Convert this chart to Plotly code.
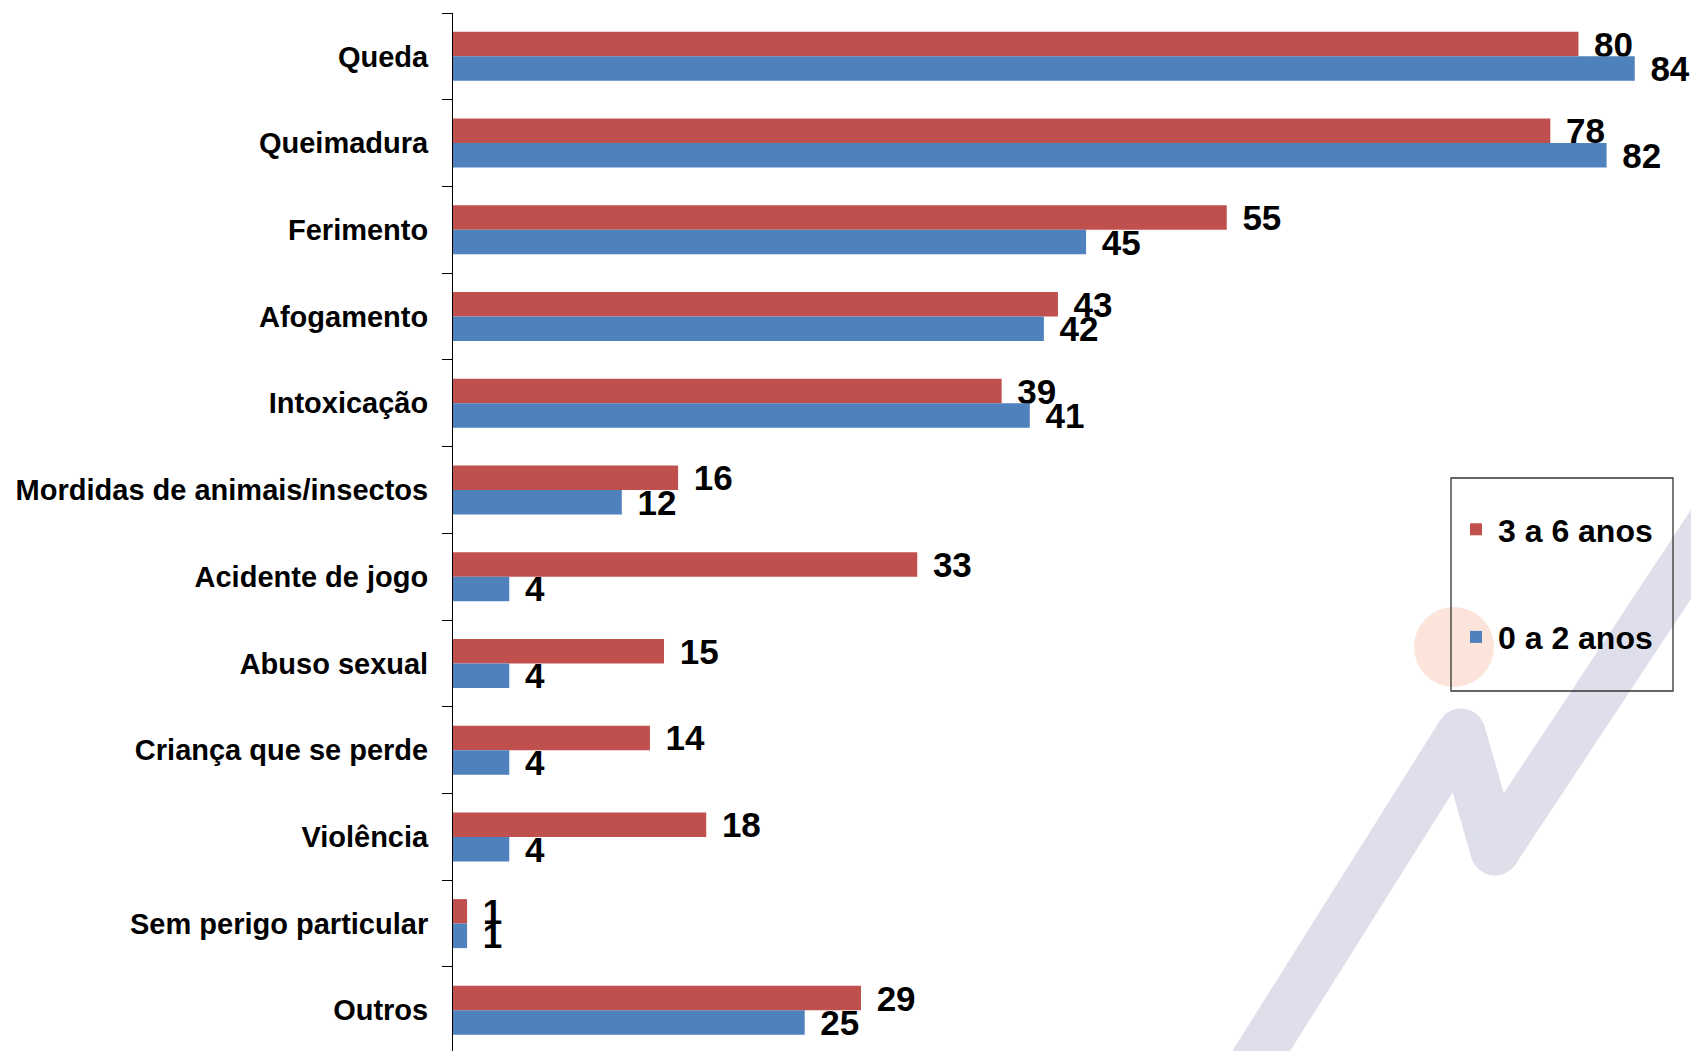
import plotly.graph_objects as go

categories = ["Queda", "Queimadura", "Ferimento", "Afogamento", "Intoxicação",
              "Mordidas de animais/insectos", "Acidente de jogo", "Abuso sexual",
              "Criança que se perde", "Violência", "Sem perigo particular", "Outros"]
series_names = ["3 a 6 anos", "0 a 2 anos"]
values_3a6 = [80, 78, 55, 43, 39, 16, 33, 15, 14, 18, 1, 29]
values_0a2 = [84, 82, 45, 42, 41, 12, 4, 4, 4, 4, 1, 25]

RED = "#C0504D"
BLUE = "#4F81BD"
FONT = "Liberation Sans, Arial, sans-serif"

W, H = 1691, 1051
L, T = 453, 13
PW, PH = W - L, H - T


def px_x(x):
    return (x - L) / PW


def px_y(y):
    return 1 - (y - T) / PH


fig = go.Figure()
for name, vals, col, grp in [(series_names[0], values_3a6, RED, "a"),
                             (series_names[1], values_0a2, BLUE, "b")]:
    fig.add_trace(go.Bar(
        y=categories, x=vals, name=name, orientation="h",
        marker=dict(color=col, line=dict(width=0)),
        texttemplate="\u00a0\u200a%{x}", textposition="outside",
        textfont=dict(family=FONT, size=35, color="black", weight="bold"),
        constraintext="none", cliponaxis=False, legendgroup=grp,
    ))

shapes = []
# watermark zigzag (decorative)
STROKE = "#DEDFEB"
pts = [(1243, 1080), (1461, 733), (1495, 851), (1740, 480)]
for (x0, y0), (x1, y1) in zip(pts[:-1], pts[1:]):
    shapes.append(dict(type="line", xref="paper", yref="paper",
                       x0=px_x(x0), y0=px_y(y0), x1=px_x(x1), y1=px_y(y1),
                       line=dict(color=STROKE, width=49), layer="below"))
for (cx, cy) in pts[1:3]:
    shapes.append(dict(type="circle", xref="paper", yref="paper",
                       xsizemode="pixel", ysizemode="pixel",
                       xanchor=px_x(cx), yanchor=px_y(cy),
                       x0=-24.5, x1=24.5, y0=-24.5, y1=24.5,
                       fillcolor=STROKE, line=dict(width=0), layer="below"))
# peach dot
shapes.append(dict(type="circle", xref="paper", yref="paper",
                   xsizemode="pixel", ysizemode="pixel",
                   xanchor=px_x(1454), yanchor=px_y(647),
                   x0=-40, x1=40, y0=-40, y1=40,
                   fillcolor="#FCE4DB", line=dict(width=0), layer="below"))
# legend frame
shapes.append(dict(type="rect", xref="paper", yref="paper",
                   x0=px_x(1451), x1=px_x(1673), y0=px_y(691), y1=px_y(478),
                   line=dict(color="#333333", width=1.3), fillcolor="rgba(0,0,0,0)"))

fig.update_layout(
    width=W, height=H,
    margin=dict(l=L, r=0, t=T, b=0, pad=0, autoexpand=False),
    paper_bgcolor="white", plot_bgcolor="white",
    barmode="group", bargap=0.435, bargroupgap=0,
    showlegend=True,
    legend=dict(x=px_x(1454), y=px_y(502), xanchor="left", yanchor="top",
                bgcolor="rgba(0,0,0,0)", borderwidth=0, itemwidth=34,
                font=dict(family=FONT, size=32, color="black", weight="bold"),
                traceorder="grouped", tracegroupgap=63),
    xaxis=dict(range=[0, 88], showgrid=False, zeroline=False, showline=False,
               showticklabels=False, ticks="", automargin=False),
    yaxis=dict(type="category", categoryorder="array", categoryarray=categories,
               range=[11.469, -0.5], showgrid=False, zeroline=False,
               showline=True, linecolor="black", linewidth=1,
               ticks="outside", tickson="boundaries", ticklen=10,
               tickcolor="black", tickwidth=1, automargin=False,
               tickfont=dict(family=FONT, size=29, color="black", weight="bold"),
               ticklabelstandoff=18),
    shapes=shapes,
)

fig.write_html("out.html",
               config={"displayModeBar": False},
               post_script="document.documentElement.style.margin='0';"
                           "document.body.style.margin='0';"
                           "document.body.style.overflow='hidden';")
